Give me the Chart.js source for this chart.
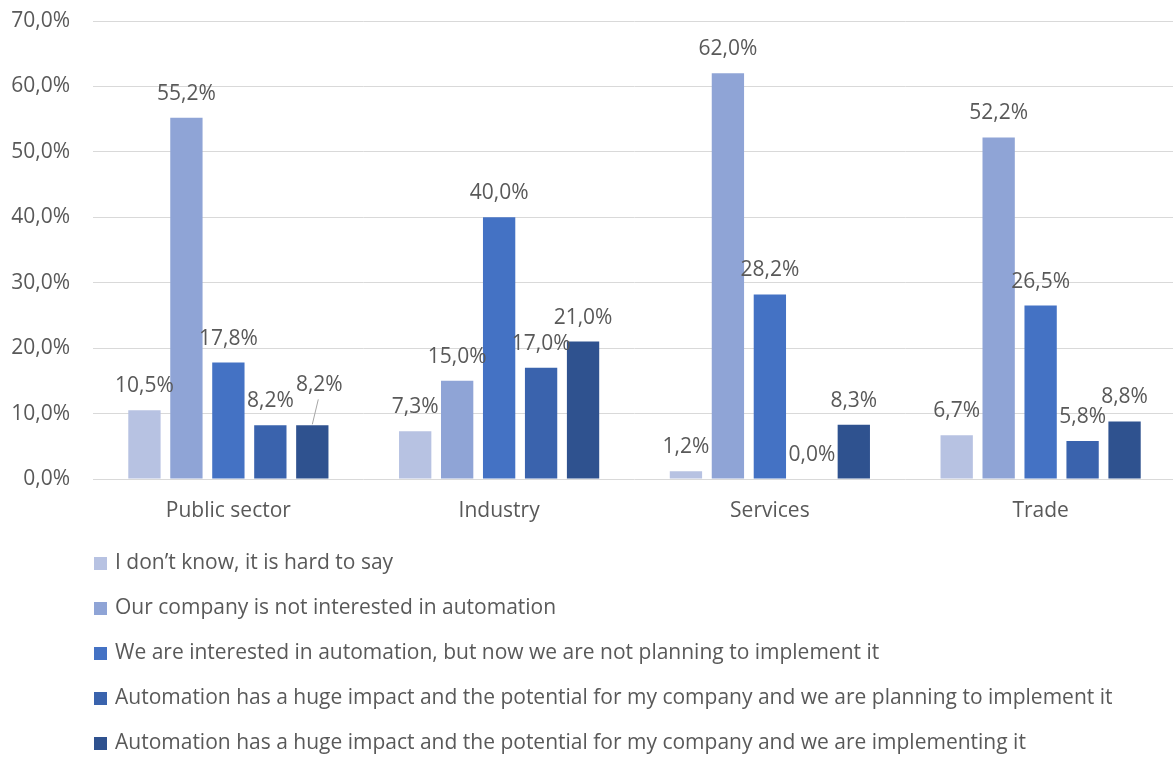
<!DOCTYPE html>
<html>
<head>
<meta charset="utf-8">
<script src="https://cdn.jsdelivr.net/npm/chart.js@4/dist/chart.umd.min.js"></script>
<style>
  html, body { margin: 0; padding: 0; background: #fff; overflow: hidden; }
  #wrap { width: 1176px; height: 757px; }
</style>
</head>
<body>
<div id="wrap"><canvas id="c" width="1176" height="757"></canvas></div>
<script>
const categories = ["Public sector", "Industry", "Services", "Trade"];
const seriesNames = [
  "I don\u2019t know, it is hard to say",
  "Our company is not interested in automation",
  "We are interested in automation, but now we are not planning to implement it",
  "Automation has a huge impact and the potential for my company and we are planning to implement it",
  "Automation has a huge impact and the potential for my company and we are implementing it"
];
const dontKnow       = [10.5, 7.3, 1.2, 6.7];
const notInterested  = [55.2, 15.0, 62.0, 52.2];
const interestedNot  = [17.8, 40.0, 28.2, 26.5];
const planning       = [8.2, 17.0, 0.0, 5.8];
const implementing   = [8.2, 21.0, 8.3, 8.8];
const yTicks = [0, 10, 20, 30, 40, 50, 60, 70];

const seriesValues = [dontKnow, notInterested, interestedNot, planning, implementing];
const colors = ["#b7c2e2", "#8fa4d6", "#4472c4", "#3a63ad", "#2f528f"];
const FONT = "'Open Sans', 'Noto Sans', sans-serif";
const TXT = "#595959";
const fmt = v => v.toFixed(1).replace('.', ',') + '%';

// label adjustments (dataset, index) -> pixel shift, with leader line
const labelShift = { "4-0": { dx: 7, dy: -16, leader: true } };

const labelPlugin = {
  id: 'barLabels',
  afterDatasetsDraw(chart) {
    const ctx = chart.ctx;
    ctx.save();
    ctx.font = "21px " + FONT;
    ctx.fillStyle = TXT;
    ctx.textAlign = 'center';
    ctx.textBaseline = 'middle';
    chart.data.datasets.forEach((ds, di) => {
      const meta = chart.getDatasetMeta(di);
      meta.data.forEach((bar, i) => {
        const s = labelShift[di + '-' + i] || { dx: 0, dy: 0 };
        const x = bar.x + s.dx;
        const y = bar.y - 24 + s.dy;
        if (s.leader) {
          ctx.strokeStyle = '#a6a6a6';
          ctx.lineWidth = 1;
          ctx.beginPath();
          ctx.moveTo(x - 1, y + 14);
          ctx.lineTo(bar.x, bar.y - 1);
          ctx.stroke();
        }
        ctx.fillText(fmt(ds.data[i]), x, y);
      });
    });
    ctx.restore();
  }
};

const legendPlugin = {
  id: 'listLegend',
  afterDraw(chart) {
    const ctx = chart.ctx;
    ctx.save();
    ctx.font = "21px " + FONT;
    ctx.textBaseline = 'middle';
    ctx.textAlign = 'left';
    chart.data.datasets.forEach((ds, i) => {
      const y = 563 + i * 45;
      ctx.fillStyle = ds.backgroundColor;
      ctx.fillRect(94, y - 6, 13, 13);
      ctx.fillStyle = TXT;
      ctx.fillText(ds.label, 115, y);
    });
    ctx.restore();
  }
};

new Chart(document.getElementById('c'), {
  type: 'bar',
  data: {
    labels: categories,
    datasets: seriesValues.map((vals, i) => ({
      label: seriesNames[i],
      data: vals,
      backgroundColor: colors[i],
      categoryPercentage: 0.775,
      barPercentage: 0.77
    }))
  },
  options: {
    responsive: false,
    animation: false,
    layout: { padding: { top: 21, left: 0, right: 0, bottom: 228 } },
    plugins: { legend: { display: false }, tooltip: { enabled: false } },
    scales: {
      x: {
        grid: { display: false },
        border: { display: false },
        ticks: { color: TXT, font: { family: FONT, size: 21 }, padding: 11 },
        afterFit(s) { s.height = 50; }
      },
      y: {
        min: 0, max: 70,
        afterBuildTicks(s) { s.ticks = yTicks.map(v => ({ value: v })); },
        grid: { color: '#d9d9d9', lineWidth: 1, drawTicks: false },
        border: { display: false },
        ticks: { color: TXT, font: { family: FONT, size: 21 }, padding: 23, callback: v => fmt(v) },
        afterFit(s) { s.width = 93; s.paddingTop = 0; s.paddingBottom = 0; }
      }
    }
  },
  plugins: [labelPlugin, legendPlugin]
});
</script>
</body>
</html>
